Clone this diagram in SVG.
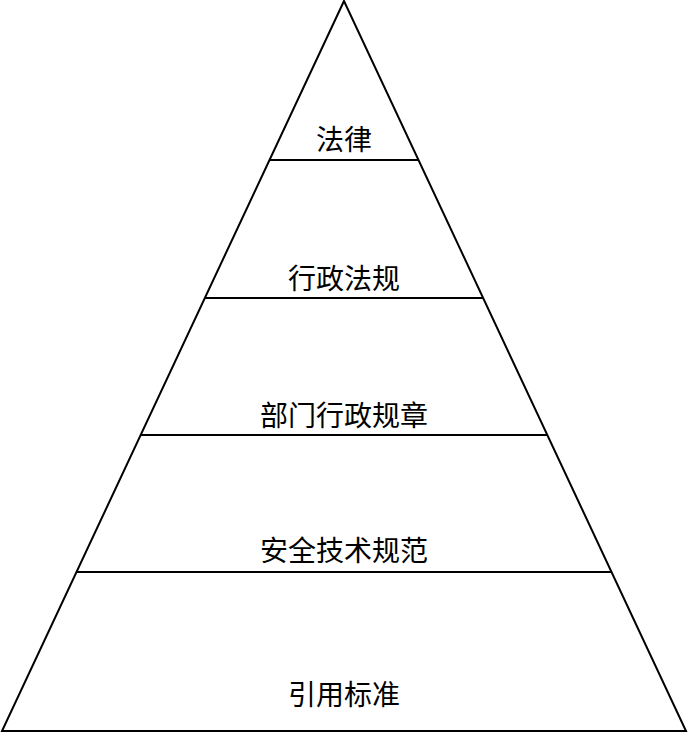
<svg xmlns="http://www.w3.org/2000/svg" width="688" height="734" viewBox="0 0 688 734">
<style>
.l{stroke:#000;stroke-width:2;fill:none}
.t{font-family:"Noto Sans CJK SC",sans-serif;font-size:28px;text-anchor:middle;fill:#000}
</style>
<rect width="688" height="734" fill="#fff"/>
<g id="pyramid">
<polygon class="l" points="344,1 2,731 686,731" stroke-width="2.5"/>
</g>
<g id="connectors">
<line class="l" x1="269" y1="160" x2="419" y2="160"/>
<line class="l" x1="205" y1="298" x2="483" y2="298"/>
<line class="l" x1="141" y1="435" x2="547" y2="435"/>
<line class="l" x1="77" y1="572" x2="611" y2="572"/>
</g>
<g id="n1"><text class="t" x="344" y="150">法律</text></g>
<g id="n2"><text class="t" x="344" y="289">行政法规</text></g>
<g id="n3"><text class="t" x="344" y="426">部门行政规章</text></g>
<g id="n4"><text class="t" x="344" y="561">安全技术规范</text></g>
<g id="n5"><text class="t" x="344" y="705">引用标准</text></g>
</svg>
